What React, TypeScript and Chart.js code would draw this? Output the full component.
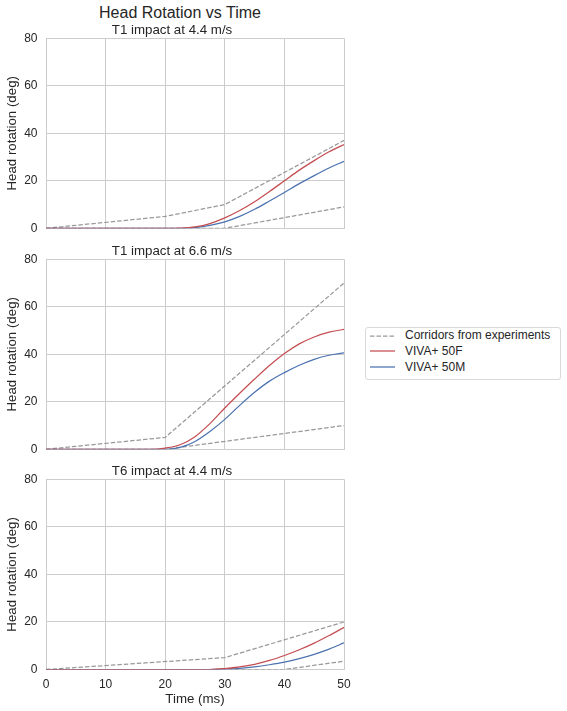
import React, { useEffect, useRef } from "react";
import { Chart, registerables } from "chart.js";

Chart.register(...registerables);

// ---- data ----
const time = [0, 2.5, 5, 7.5, 10, 12.5, 15, 17.5, 20, 22.5, 25, 27.5, 30, 32.5, 35, 37.5, 40, 42.5, 45, 47.5, 50];

const t1s44_50F = [0, 0, 0, 0, 0, 0, 0, 0, 0, 0.1, 0.6, 2.0, 4.4, 7.5, 11.2, 15.5, 20.0, 24.5, 28.5, 32.2, 35.3];
const t1s44_50M = [0, 0, 0, 0, 0, 0, 0, 0, 0, 0, 0.3, 1.2, 2.7, 5.0, 8.0, 11.5, 15.1, 18.8, 22.2, 25.4, 28.2];
const t1s44_upperX = [0, 20, 30, 50];
const t1s44_upperY = [0, 5, 10, 37];
const t1s44_lowerX = [0, 30, 50];
const t1s44_lowerY = [0, 0, 9];

const t1s66_50F = [0, 0, 0, 0, 0, 0, 0, 0, 0.5, 1.9, 5.3, 10.8, 17.4, 23.6, 29.6, 35.3, 40.3, 44.4, 47.3, 49.3, 50.5];
const t1s66_50M = [0, 0, 0, 0, 0, 0, 0, 0, 0, 0.8, 3.3, 7.5, 12.6, 18.5, 24.0, 28.7, 32.3, 35.4, 37.9, 39.6, 40.6];
const t1s66_upperX = [0, 20, 50];
const t1s66_upperY = [0, 5, 70];
const t1s66_lowerX = [0, 20, 50];
const t1s66_lowerY = [0, 0, 10];

const t6s44_50F = [0, 0, 0, 0, 0, 0, 0, 0, 0, 0, 0, 0, 0.4, 1.1, 2.2, 3.8, 5.9, 8.3, 11.1, 14.3, 17.7];
const t6s44_50M = [0, 0, 0, 0, 0, 0, 0, 0, 0, 0, 0, 0, 0.2, 0.5, 1.1, 2.0, 3.1, 4.6, 6.4, 8.6, 11.2];
const t6s44_upperX = [0, 30, 50];
const t6s44_upperY = [0, 5, 20];
const t6s44_lowerX = [0, 40, 50];
const t6s44_lowerY = [0, 0, 3.5];

const xTicks = [0, 10, 20, 30, 40, 50];
const yTicks = [0, 20, 40, 60, 80];

const subplotTitles = ["T1 impact at 4.4 m/s", "T1 impact at 6.6 m/s", "T6 impact at 4.4 m/s"];
const legendLabels = ["Corridors from experiments", "VIVA+ 50F", "VIVA+ 50M"];

// ---- style ----
const FONT = "'Liberation Sans', Arial, sans-serif";
const TEXT = "#262626";
const GRID = "#cccccc";
const RED = "#c44e52";
const BLUE = "#4c72b0";
const GRAYD = "#999999";

type Panel = {
  title: string;
  f: number[];
  m: number[];
  ux: number[];
  uy: number[];
  lx: number[];
  ly: number[];
};

const panels: Panel[] = [
  { title: subplotTitles[0], f: t1s44_50F, m: t1s44_50M, ux: t1s44_upperX, uy: t1s44_upperY, lx: t1s44_lowerX, ly: t1s44_lowerY },
  { title: subplotTitles[1], f: t1s66_50F, m: t1s66_50M, ux: t1s66_upperX, uy: t1s66_upperY, lx: t1s66_lowerX, ly: t1s66_lowerY },
  { title: subplotTitles[2], f: t6s44_50F, m: t6s44_50M, ux: t6s44_upperX, uy: t6s44_upperY, lx: t6s44_lowerX, ly: t6s44_lowerY },
];

const zip = (xs: number[], ys: number[]) => xs.map((x, i) => ({ x, y: ys[i] }));

function PanelChart({ panel, top, height, isBottom }: { panel: Panel; top: number; height: number; isBottom: boolean }) {
  const ref = useRef<HTMLCanvasElement | null>(null);
  useEffect(() => {
    if (!ref.current) return;
    const lineBase = { pointRadius: 0, pointHoverRadius: 0, borderWidth: 1.25, fill: false };
    const chart = new Chart(ref.current, {
      type: "line",
      data: {
        datasets: [
          { ...lineBase, label: legendLabels[1], data: zip(time, panel.f), borderColor: RED, cubicInterpolationMode: "monotone" },
          { ...lineBase, label: legendLabels[2], data: zip(time, panel.m), borderColor: BLUE, cubicInterpolationMode: "monotone" },
          { ...lineBase, label: legendLabels[0], data: zip(panel.ux, panel.uy), borderColor: GRAYD, borderDash: [4.5, 2], tension: 0 },
          { ...lineBase, label: legendLabels[0] + " (lower)", data: zip(panel.lx, panel.ly), borderColor: GRAYD, borderDash: [4.5, 2], tension: 0 },
        ],
      } as any,
      options: {
        animation: false,
        responsive: false,
        events: [],
        layout: { padding: { left: 0, right: 16, top: 0, bottom: isBottom ? 0 : 11 } },
        plugins: {
          legend: { display: false },
          tooltip: { enabled: false },
          title: {
            display: true,
            text: panel.title,
            color: TEXT,
            font: { family: FONT, size: 13.3, weight: "normal" as any, lineHeight: 1 },
            padding: { top: 24, bottom: 1 },
          },
        },
        scales: {
          x: {
            type: "linear",
            min: 0,
            max: 50,
            afterBuildTicks: (s: any) => {
              s.ticks = xTicks.map((v) => ({ value: v }));
            },
            afterFit: (s: any) => {
              s.height = isBottom ? 41.5 : 0;
            },
            grid: { color: GRID, lineWidth: 1, drawTicks: false },
            border: { color: GRID, width: 1 },
            ticks: {
              display: isBottom,
              color: TEXT,
              padding: 8,
              font: { family: FONT, size: 12 },
              maxRotation: 0,
            },
            title: {
              display: isBottom,
              text: "Time (ms)",
              color: TEXT,
              font: { family: FONT, size: 13.3 },
              padding: { top: 0, bottom: 4 },
            },
          },
          y: {
            type: "linear",
            min: 0,
            max: 80,
            afterBuildTicks: (s: any) => {
              s.ticks = yTicks.map((v) => ({ value: v }));
            },
            afterFit: (s: any) => {
              s.width = 46;
            },
            grid: { color: GRID, lineWidth: 1, drawTicks: false },
            border: { color: GRID, width: 1 },
            ticks: { color: TEXT, padding: 8.5, font: { family: FONT, size: 12 } },
            title: {
              display: true,
              text: "Head rotation (deg)",
              color: TEXT,
              font: { family: FONT, size: 13.3 },
              padding: { top: 4.7, bottom: 0 },
            },
          },
        },
      },
    });
    return () => chart.destroy();
  }, [panel, isBottom]);
  return (
    <canvas
      ref={ref}
      width={360}
      height={height}
      style={{ position: "absolute", left: 0, top, width: 360, height, display: "block" }}
    />
  );
}

function LegendSample({ color, dashed, y }: { color: string; dashed: boolean; y: number }) {
  return (
    <svg style={{ position: "absolute", left: 368, top: y - 3, overflow: "visible" }} width={30} height={6}>
      <line x1={2} y1={3} x2={27} y2={3} stroke={color} strokeWidth={1.25} strokeDasharray={dashed ? "4.5 2" : undefined} />
    </svg>
  );
}

export default function App() {
  const rows = [
    { label: legendLabels[0], color: GRAYD, dashed: true, y: 335.5 },
    { label: legendLabels[1], color: RED, dashed: false, y: 351 },
    { label: legendLabels[2], color: BLUE, dashed: false, y: 367 },
  ];
  return (
    <div style={{ position: "absolute", left: 0, top: 0, width: 567, height: 711, background: "#fff", overflow: "hidden", fontFamily: FONT, color: TEXT }}>
      <div style={{ position: "absolute", left: 0, top: 5, width: 360, textAlign: "center", fontSize: 16, lineHeight: "16px", whiteSpace: "nowrap" }}>
        Head Rotation vs Time
      </div>
      <PanelChart panel={panels[0]} top={0} height={244} isBottom={false} />
      <PanelChart panel={panels[1]} top={221} height={244} isBottom={false} />
      <PanelChart panel={panels[2]} top={441} height={270} isBottom={true} />
      <div
        style={{
          position: "absolute",
          left: 365,
          top: 327,
          width: 194,
          height: 51,
          border: "1px solid #d9d9d9",
          borderRadius: 3,
          boxSizing: "content-box",
        }}
      />
      {rows.map((r) => (
        <React.Fragment key={r.label}>
          <LegendSample color={r.color} dashed={r.dashed} y={r.y} />
          <div style={{ position: "absolute", left: 405, top: r.y - 6.2, fontSize: 12, lineHeight: "12px", whiteSpace: "nowrap" }}>{r.label}</div>
        </React.Fragment>
      ))}
    </div>
  );
}
